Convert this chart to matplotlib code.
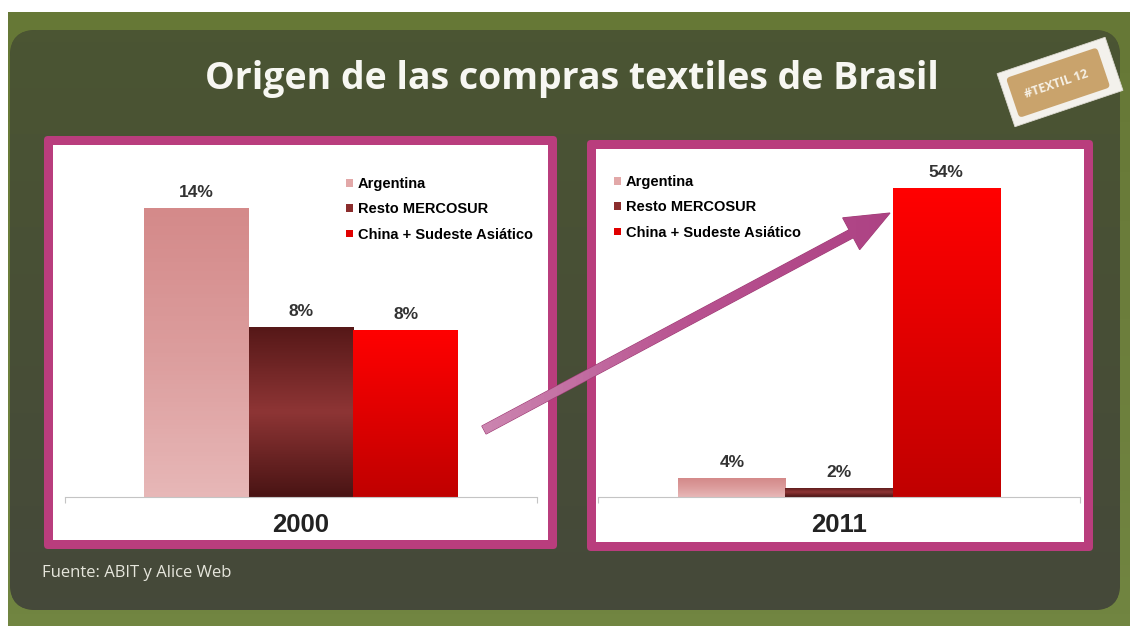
import numpy as np
import matplotlib
matplotlib.use('Agg')
import matplotlib.pyplot as plt
from matplotlib.patches import FancyBboxPatch, Rectangle, FancyArrow, Patch
from matplotlib.colors import LinearSegmentedColormap
import matplotlib.transforms as mtransforms

plt.rcParams['font.family'] = ['Liberation Sans', 'DejaVu Sans']

# data
categories = ['Argentina', 'Resto MERCOSUR', 'China + Sudeste Asiático']
years = ['2000', '2011']
values_2000 = [14.0, 8.25, 8.1]
values_2011 = [3.3, 1.6, 54.0]
labels_2000 = ['14%', '8%', '8%']
labels_2011 = ['4%', '2%', '54%']

title = 'Origen de las compras textiles de Brasil'
source = 'Fuente: ABIT y Alice Web'

W, H = 1130, 626
bar_grads = [
    ['#d48a8a', '#dc9d9d', '#e7b7b7'],
    ['#561818', '#8e3535', '#4a1414'],
    ['#ff0000', '#e00000', '#c00000'],
]
legend_cols = ['#e2a8a8', '#8b2d2d', '#e00000']
border = '#b93d7d'


def px_rect(l, t, r, b):
    return [l / W, 1 - b / H, (r - l) / W, (b - t) / H]


fig = plt.figure(figsize=(W / 100, H / 100), dpi=100, facecolor='white')

# background layer in pixel coordinates
bg = fig.add_axes([0, 0, 1, 1], zorder=0)
bg.set_xlim(0, W)
bg.set_ylim(H, 0)
bg.axis('off')

olive = LinearSegmentedColormap.from_list('olive', ['#667836', '#6c7e3c', '#718541'])
bg.imshow(np.linspace(0, 1, 50).reshape(-1, 1), cmap=olive, aspect='auto',
          extent=[8, W, H, 12], zorder=0)
dark = FancyBboxPatch((10, 30), 1110, 580, boxstyle='round,pad=0,rounding_size=26',
                      facecolor='#474d35', edgecolor='none', zorder=1)
bg.add_patch(dark)
darkc = LinearSegmentedColormap.from_list('dark', ['#4b5533', '#484f36', '#45493a'])
im = bg.imshow(np.linspace(0, 1, 50).reshape(-1, 1), cmap=darkc, aspect='auto',
               extent=[10, 1120, 610, 30], zorder=1.5)
im.set_clip_path(dark)

# panels
for (l, t, r, b) in [(44, 136, 557, 549), (587, 140, 1093, 551)]:
    bg.add_patch(FancyBboxPatch((l, t), r - l, b - t, boxstyle='round,pad=0,rounding_size=4',
                                facecolor=border, edgecolor='none', zorder=2))
    bg.add_patch(Rectangle((l + 9, t + 9), r - l - 18, b - t - 18,
                           facecolor='white', edgecolor='none', zorder=3))

bg.text(572, 79, title, color='#f7f7f2', fontsize=27, fontweight='bold',
        family=['Open Sans', 'DejaVu Sans'], ha='center', va='center', zorder=4)
bg.text(42, 573, source, color='#e6e6dc', fontsize=12,
        family=['Open Sans', 'DejaVu Sans'], ha='left', va='center', zorder=4)


def draw_panel(rect, values, labels, year, ytop, leg_xy):
    ax = fig.add_axes(px_rect(*rect), zorder=1)
    ax.set_facecolor('none')
    x = np.arange(len(values))
    bars = ax.bar(x, values, width=1.0, color='none', edgecolor='none')
    for bar, grad in zip(bars, bar_grads):
        cmap = LinearSegmentedColormap.from_list('g', grad[::-1])
        x0, w, h = bar.get_x(), bar.get_width(), bar.get_height()
        img = ax.imshow(np.linspace(0, 1, 64).reshape(-1, 1), cmap=cmap, origin='lower',
                        aspect='auto', extent=[x0, x0 + w, 0, h], zorder=2)
        img.set_clip_path(bar)
    for xi, v, lab in zip(x, values, labels):
        ax.annotate(lab, (xi, v), xytext=(0, 11), textcoords='offset points',
                    ha='center', va='center', fontsize=12.5, fontweight='bold', color='#333333')
    ax.set_xlim(-1.25, 3.25)
    ax.set_ylim(0, ytop)
    for s in ['top', 'right', 'left']:
        ax.spines[s].set_visible(False)
    ax.spines['bottom'].set_color('#c4c4c4')
    ax.set_yticks([])
    ax.set_xticks([-1.25, 3.25])
    ax.set_xticklabels([])
    ax.tick_params(axis='x', length=4, color='#c4c4c4')
    ax.text(0.5, -0.081, year, transform=ax.transAxes, ha='center', va='center',
            fontsize=18.5, fontweight='bold', color='#222222')
    handles = [Patch(facecolor=c, edgecolor='none') for c in legend_cols]
    ax.legend(handles, categories, loc='upper left',
              bbox_to_anchor=(leg_xy[0] / W, 1 - leg_xy[1] / H),
              bbox_transform=fig.transFigure, frameon=False,
              prop={'weight': 'bold', 'size': 10.5}, handlelength=0.45, handleheight=0.45,
              handletextpad=0.35, labelspacing=0.78, borderpad=0, borderaxespad=0)
    return ax


draw_panel((65, 150, 537, 497), values_2000, labels_2000, years[0], 347 / (289 / 14.0), (346, 177))
draw_panel((598, 150, 1080, 497), values_2011, labels_2011, years[1], 347 / (309 / 54.0), (614, 175))

# overlay: arrow and tag
ov = fig.add_axes([0, 0, 1, 1], zorder=3)
ov.set_xlim(0, W)
ov.set_ylim(H, 0)
ov.axis('off')
ov.patch.set_visible(False)

x0a, y0a, x1a, y1a = 484, 430, 890, 213
arrow = FancyArrow(x0a, y0a, x1a - x0a, y1a - y0a, width=9, head_width=36, head_length=44,
                   length_includes_head=True, facecolor='#b65089', edgecolor='#9e3d74',
                   linewidth=0.8, zorder=5)
ov.add_patch(arrow)
acmap = LinearSegmentedColormap.from_list('a', ['#cc86b1', '#b85290', '#ad4284'])
aim = ov.imshow(np.linspace(0, 1, 64).reshape(1, -1), cmap=acmap, aspect='auto',
                extent=[x0a - 5, x1a + 5, y0a + 25, y1a - 25], zorder=5.5)
aim.set_clip_path(arrow)

cx, cy, ang = 1060, 82, 18.6
rot = mtransforms.Affine2D().rotate_deg_around(cx, cy, -ang) + ov.transData
ov.add_patch(Rectangle((cx - 57, cy - 28), 114, 56, facecolor='#f3f1ec',
                       edgecolor='#dddad2', linewidth=0.6, transform=rot, zorder=6))
ov.add_patch(FancyBboxPatch((cx - 50, cy - 21), 96, 42, boxstyle='round,pad=0,rounding_size=4',
                            facecolor='#c9a36c', edgecolor='none', transform=rot, zorder=7))
ov.text(cx - 4, cy + 2, '#TEXTIL 12', rotation=ang, rotation_mode='anchor', color='#f6f0e4',
        fontsize=9, fontweight='bold', ha='center', va='center', zorder=8,
        family=['Open Sans', 'DejaVu Sans'])

fig.savefig('out.png', dpi=100, facecolor=fig.get_facecolor())
